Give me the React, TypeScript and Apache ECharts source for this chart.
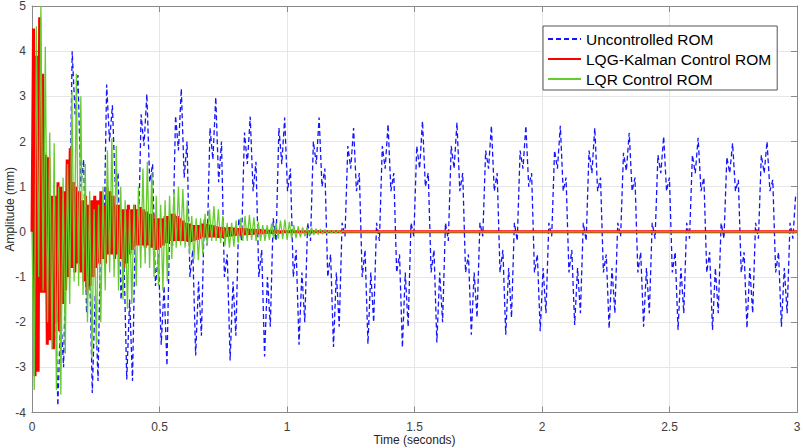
import React, { useEffect, useRef } from "react";
import * as echarts from "echarts";

const SERIES_NAMES = ["Uncontrolled ROM", "LQG-Kalman Control ROM", "LQR Control ROM"];
const X_NAME = "Time (seconds)";
const Y_NAME = "Amplitude (mm)";
const X_MIN = 0;
const X_MAX = 3;
const X_STEP = 0.5;
const Y_MIN = -4;
const Y_MAX = 5;
const Y_STEP = 1;

// Uncontrolled ROM: successive turning points, one every BLUE_DT seconds
const BLUE_DT = 0.01126;
const BLUE = [
  0, 0.3, 1.8, 1.2, 2.4, 0.8, 1.0, -1.6, -1.0, -3.85, -1.8, -3.0,
  0.3, -0.3, 4.0, 2.6, 3.47, 1.0, 1.6, -1.8, -0.6, -3.57, -1.4, -3.3,
  0.3, -0.4, 3.26, 2.0, 2.8, 1.0, 1.3, -1.5, -0.5, -3.27, -1.5, -3.3,
  0.2, -0.3, 2.6, 1.9, 3.05, 1.1, 1.5, -1.2, -0.5, -2.5, -1.2, -2.96,
  0.3, -0.3, 2.57, 1.8, 3.17, 1.2, 2.0, -1.0, -0.4, -2.74, -1.1, -2.3,
  0.3, -0.3, 2.3, 1.6, 2.98, 1.1, 2.0, -1.0, -0.5, -2.85, -1.1, -2.3,
  0.3, -0.2, 2.2, 1.5, 2.55, 0.9, 1.55, -1.0, -0.4, -2.76, -1.0, -2.1,
  0.3, -0.2, 2.3, 1.5, 2.53, 0.9, 1.4, -1.0, -0.4, -2.5, -0.9, -2.0,
  0.2, -0.2, 2.0, 1.5, 2.53, 1.0, 1.4, -1.0, -0.5, -2.55, -0.9, -2.1,
  0.2, -0.1, 1.9, 1.4, 2.3, 0.9, 1.3, -1.0, -0.4, -2.48, -0.9, -2.0,
  0.2, -0.2, 1.9, 1.4, 2.38, 0.9, 1.3, -0.9, -0.5, -2.56, -0.9, -2.1,
  0.2, -0.1, 1.9, 1.4, 2.45, 1.0, 1.3, -0.9, -0.4, -2.45, -0.9, -2.0,
  0.2, -0.2, 1.9, 1.4, 2.42, 0.9, 1.3, -0.9, -0.5, -2.28, -0.9, -1.9,
  0.2, -0.1, 1.8, 1.4, 2.35, 0.9, 1.3, -0.9, -0.4, -2.28, -0.8, -1.9,
  0.2, -0.2, 1.8, 1.4, 2.35, 1.0, 1.3, -0.9, -0.5, -2.2, -0.8, -1.8,
  0.2, -0.1, 1.8, 1.4, 2.35, 0.9, 1.2, -0.9, -0.4, -2.06, -0.8, -1.8,
  0.2, -0.2, 1.8, 1.3, 2.3, 0.9, 1.2, -0.9, -0.5, -2.14, -0.8, -1.8,
  0.2, -0.1, 1.75, 1.35, 2.19, 0.9, 1.2, -0.9, -0.45, -2.1, -0.8, -1.8,
  0.2, -0.15, 1.7, 1.3, 2.11, 0.9, 1.2, -0.9, -0.45, -2.17, -0.8, -1.8,
  0.2, -0.15, 1.7, 1.3, 2.08, 0.9, 1.2, -0.9, -0.45, -2.17, -0.8, -1.8,
  0.2, -0.15, 1.65, 1.3, 1.96, 0.9, 1.15, -0.9, -0.45, -2.13, -0.8, -1.8,
  0.2, -0.15, 1.7, 1.3, 2.0, 0.9, 1.15, -0.9, -0.45, -2.1, -0.8, -1.8,
  0.2, -0.15, 0.85,
];

// LQG-Kalman Control ROM: turning points every RED_DT seconds, then rest at 0
const RED_DT = 0.006;
const RED = [
  0, 4.5, -3.2, 3.9, -3.1, 4.75, -1.35, 3.5, -1.35, 1.7, -2.5, 1.65, -2.4, 0.8, -2.6, 0.8,
  -2.0, 1.1, -2.2, 1.0, -1.6, 0.9, -1.3, 1.6, -1.0, 1.85, -0.8, 1.1, -0.9, 1.0, -0.7, 0.9,
  -0.9, 0.7, -1.1, 0.8, -1.3, 0.6, -1.2, 0.7, -1.0, 0.8, -0.8, 0.7, -0.7, 0.9, -0.6, 0.6,
  -0.7, 1.0, -0.5, 0.9, -0.5, 0.8, -0.6, 0.6, -0.5, 0.6, -0.6, 0.5, -0.8, 0.5, -0.7, 0.6,
  -0.5, 0.5, -0.4, 0.6, -0.3, 0.5, -0.3, 0.55, -0.3, 0.5, -0.35, 0.45, -0.3, 0.4, -0.35, 0.4,
  -0.4, 0.3, -0.4, 0.3, -0.35, 0.3, -0.3, 0.35, -0.25, 0.35, -0.2, 0.4, -0.2, 0.4, -0.2, 0.35,
  -0.2, 0.3, -0.2, 0.25, -0.2, 0.2, -0.22, 0.18, -0.22, 0.15, -0.2, 0.15, -0.18, 0.15, -0.15, 0.18,
  -0.12, 0.18, -0.12, 0.17, -0.12, 0.15, -0.12, 0.14, -0.12, 0.12, -0.13, 0.1, -0.13, 0.1, -0.12, 0.09,
  -0.11, 0.1, -0.1, 0.09, -0.09, 0.09, -0.08, 0.08, -0.08, 0.08, -0.07, 0.07, -0.07, 0.07, -0.06, 0.06,
  -0.06, 0.06, -0.05, 0.05, -0.05, 0.05, -0.04, 0.04, -0.04, 0.04, -0.03, 0.03, -0.03, 0.03, -0.03, 0.02,
  -0.02, 0.02, -0.02, 0.01, -0.01, 0.01, 0,
];

// LQR Control ROM: turning points every GREEN_DT seconds, then rest at 0
const GREEN_DT = 0.0087;
const GREEN = [
  0, -3.5, 4.55, -1.0, 5.0, -1.3, 4.1, -2.0, 2.2, -2.6, 1.96, -3.5, 1.0, -3.6, 1.2, -2.7,
  1.5, -1.6, 3.1, -1.1, 3.5, -1.2, 3.0, -1.4, 1.5, -2.0, 0.9, -2.8, 0.5, -2.5, 0.6, -2.0,
  1.0, -1.3, 1.8, -0.9, 2.07, -1.0, 1.9, -1.3, 1.0, -1.5, 0.7, -1.7, 0.5, -1.6, 0.6, -1.2,
  1.0, -0.8, 1.4, -0.7, 1.55, -0.8, 1.3, -1.0, 0.8, -1.2, 0.6, -1.3, 0.7, -1.1, 0.8, -0.6,
  0.9, -0.35, 1.0, -0.3, 0.95, -0.35, 0.7, -0.5, 0.35, -0.6, 0.3, -0.63, 0.3, -0.5, 0.4, -0.3,
  0.5, -0.2, 0.57, -0.2, 0.5, -0.25, 0.35, -0.3, 0.2, -0.35, 0.2, -0.33, 0.25, -0.25, 0.3, -0.2,
  0.35, -0.2, 0.37, -0.18, 0.32, -0.2, 0.22, -0.2, 0.15, -0.2, 0.15, -0.18, 0.18, -0.16, 0.2, -0.15,
  0.25, -0.16, 0.27, -0.18, 0.22, -0.15, 0.15, -0.14, 0.12, -0.12, 0.1, -0.1, 0.1, -0.08, 0.09, -0.07,
  0.07, -0.06, 0.06, -0.05, 0.05, -0.04, 0.04, -0.03, 0.03, -0.03, 0.03, -0.02, 0.02, 0,
];

const FONT = 'Arial, "Liberation Sans", Helvetica, sans-serif';
const AXIS_COLOR = "#8a8a8a";
const LABEL_COLOR = "#404040";
const GRID_COLOR = "#e6e6e6";

function toPairs(values: number[], dt: number, holdUntil?: number): number[][] {
  const pts = values.map((v, i) => [i * dt, v]);
  if (holdUntil !== undefined) pts.push([holdUntil, values[values.length - 1]]);
  return pts;
}

export default function App() {
  const ref = useRef<HTMLDivElement>(null);

  useEffect(() => {
    if (!ref.current) return;
    const chart = echarts.init(ref.current, undefined, { renderer: "svg" });

    const boxAxisX = {
      type: "value" as const,
      min: X_MIN,
      max: X_MAX,
      interval: X_STEP,
    };
    const boxAxisY = {
      type: "value" as const,
      min: Y_MIN,
      max: Y_MAX,
      interval: Y_STEP,
    };

    chart.setOption({
      animation: false,
      backgroundColor: "#ffffff",
      textStyle: { fontFamily: FONT },
      grid: {
        left: 32,
        right: 6,
        top: 6,
        bottom: 35.5,
        show: false,
        containLabel: false,
        outerBoundsMode: "none",
      },
      legend: {
        orient: "vertical",
        left: 543,
        top: 26,
        padding: [5, 6, 3, 4],
        itemGap: 4,
        itemWidth: 33,
        itemHeight: 16,
        backgroundColor: "#ffffff",
        borderColor: "#555555",
        borderWidth: 1,
        borderRadius: 0,
        itemStyle: { opacity: 0, borderWidth: 0 },
        textStyle: { fontSize: 15.5, color: "#000000", fontFamily: FONT },
        data: SERIES_NAMES,
      },
      xAxis: [
        {
          ...boxAxisX,
          position: "bottom",
          name: X_NAME,
          nameLocation: "middle",
          nameGap: 21,
          nameMoveOverlap: false,
          nameTextStyle: { fontSize: 12, color: "#262626", fontFamily: FONT },
          axisLine: { show: true, onZero: false, lineStyle: { color: AXIS_COLOR, width: 1 } },
          axisTick: { show: true, inside: true, length: 6, lineStyle: { color: AXIS_COLOR } },
          axisLabel: { color: LABEL_COLOR, fontSize: 12, margin: 8, fontFamily: FONT },
          splitLine: { show: true, lineStyle: { color: GRID_COLOR, width: 1 } },
        },
        {
          ...boxAxisX,
          position: "top",
          axisLine: { show: true, onZero: false, lineStyle: { color: AXIS_COLOR, width: 1 } },
          axisTick: { show: true, inside: true, length: 6, lineStyle: { color: AXIS_COLOR } },
          axisLabel: { show: false },
          splitLine: { show: false },
        },
      ],
      yAxis: [
        {
          ...boxAxisY,
          position: "left",
          name: Y_NAME,
          nameLocation: "middle",
          nameGap: 16,
          nameMoveOverlap: false,
          nameTextStyle: { fontSize: 12, color: "#262626", fontFamily: FONT },
          axisLine: { show: true, onZero: false, lineStyle: { color: AXIS_COLOR, width: 1 } },
          axisTick: { show: true, inside: true, length: 6, lineStyle: { color: AXIS_COLOR } },
          axisLabel: { color: LABEL_COLOR, fontSize: 12, margin: 6, fontFamily: FONT },
          splitLine: { show: true, lineStyle: { color: GRID_COLOR, width: 1 } },
        },
        {
          ...boxAxisY,
          position: "right",
          axisLine: { show: true, onZero: false, lineStyle: { color: AXIS_COLOR, width: 1 } },
          axisTick: { show: true, inside: true, length: 6, lineStyle: { color: AXIS_COLOR } },
          axisLabel: { show: false },
          splitLine: { show: false },
        },
      ],
      series: [
        {
          type: "line",
          name: SERIES_NAMES[0],
          data: toPairs(BLUE, BLUE_DT),
          symbol: "none",
          showSymbol: false,
          silent: true,
          itemStyle: { color: "#1414ff" },
          lineStyle: { color: "#1414ff", width: 1.3, type: [5, 3] },
        },
        {
          type: "line",
          name: SERIES_NAMES[1],
          data: toPairs(RED, RED_DT, X_MAX),
          symbol: "none",
          showSymbol: false,
          silent: true,
          itemStyle: { color: "#ff0000" },
          lineStyle: { color: "#ff0000", width: 3 },
        },
        {
          type: "line",
          name: SERIES_NAMES[2],
          data: toPairs(GREEN, GREEN_DT, X_MAX),
          symbol: "none",
          showSymbol: false,
          silent: true,
          itemStyle: { color: "#66cc2e" },
          lineStyle: { color: "#66cc2e", width: 1.3 },
        },
      ],
    });

    return () => {
      chart.dispose();
    };
  }, []);

  return (
    <div
      ref={ref}
      style={{ position: "absolute", left: 0, top: 0, width: 803, height: 448, background: "#fff" }}
    />
  );
}
